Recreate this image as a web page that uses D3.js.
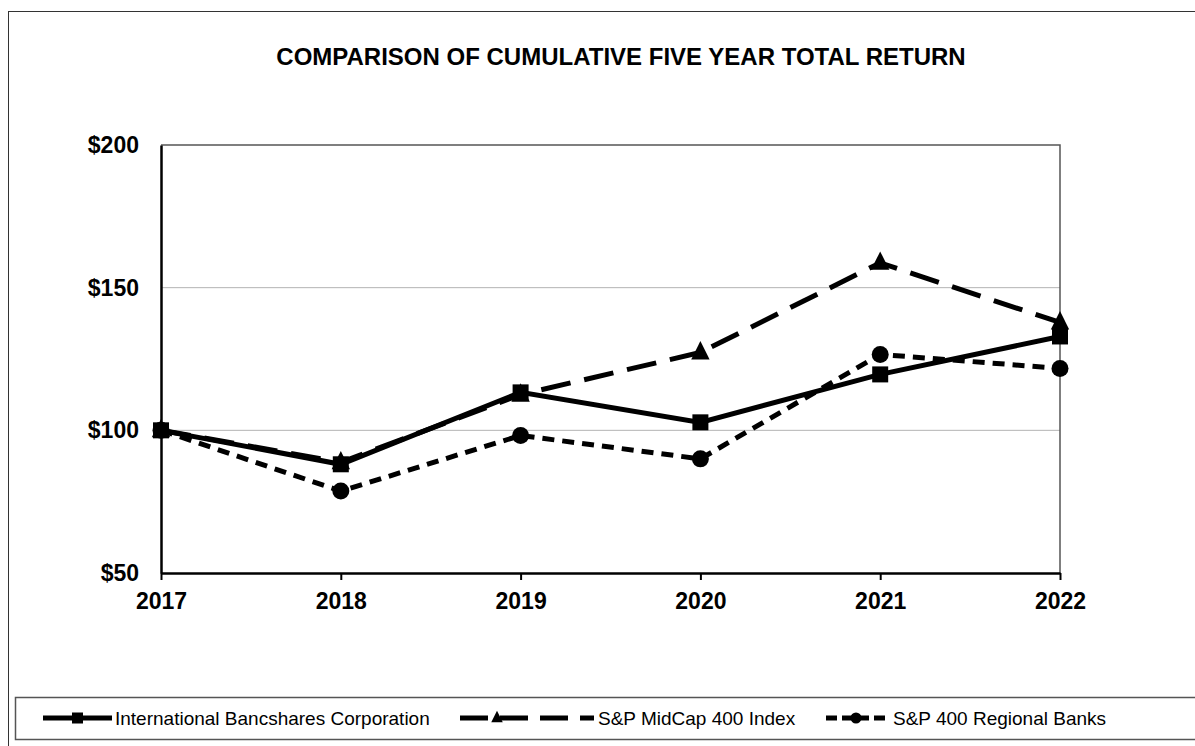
<!DOCTYPE html>
<html>
<head>
<meta charset="utf-8">
<script src="https://cdn.jsdelivr.net/npm/d3@7"></script>
<style>
  body { margin: 0; background: #fff; }
  svg { display: block; font-family: "Liberation Sans", Arial, sans-serif; }
</style>
</head>
<body>
<div id="chart"></div>
<script>
// data
const years = ["2017", "2018", "2019", "2020", "2021", "2022"];
const ibcValues = [100, 88.1, 113.3, 102.8, 119.6, 132.9];
const midcapValues = [100, 88.8, 112.5, 127.3, 158.7, 137.8];
const regionalValues = [100, 78.7, 98.2, 90.0, 126.6, 121.7];
const yTicks = [50, 100, 150, 200];

const seriesList = [
  {name: "International Bancshares Corporation", values: ibcValues, marker: "square", dash: null},
  {name: "S&P MidCap 400 Index", values: midcapValues, marker: "triangle", dash: "30,14"},
  {name: "S&P 400 Regional Banks", values: regionalValues, marker: "circle", dash: "12,8"}
];

const W = 1195, H = 746;
const plot = {left: 161, right: 1060, top: 145, bottom: 573};

const svg = d3.select("#chart").append("svg")
  .attr("width", W)
  .attr("height", H);

// outer frame
svg.append("rect")
  .attr("x", 8.5).attr("y", 11.5)
  .attr("width", W + 20).attr("height", H + 20)
  .attr("fill", "none")
  .attr("stroke", "#333")
  .attr("stroke-width", 1);

svg.append("text")
  .attr("x", 621)
  .attr("y", 65)
  .attr("text-anchor", "middle")
  .attr("font-size", 24)
  .attr("font-weight", "bold")
  .text("COMPARISON OF CUMULATIVE FIVE YEAR TOTAL RETURN");

const x = d3.scalePoint().domain(years).range([plot.left, plot.right]);
const y = d3.scaleLinear().domain([50, 200]).range([plot.bottom, plot.top]);

// gridlines
svg.append("g")
  .selectAll("line")
  .data(yTicks.filter(t => t > 50 && t < 200))
  .join("line")
  .attr("x1", plot.left).attr("x2", plot.right)
  .attr("y1", d => y(d)).attr("y2", d => y(d))
  .attr("stroke", "#b4b4b4")
  .attr("stroke-width", 1);

// top and right frame of plot area
svg.append("path")
  .attr("d", `M${plot.left},${plot.top}H${plot.right}V${plot.bottom}`)
  .attr("fill", "none")
  .attr("stroke", "#555")
  .attr("stroke-width", 1.5);

// y axis
const yAxis = svg.append("g")
  .attr("transform", `translate(${plot.left},0)`)
  .call(d3.axisLeft(y).tickValues(yTicks).tickSize(0).tickPadding(22).tickFormat(d => "$" + d));
yAxis.select(".domain").attr("stroke", "#000").attr("stroke-width", 2.5);
yAxis.selectAll("text")
  .attr("font-size", 23)
  .attr("font-weight", "bold")
  .attr("fill", "#000")
  .attr("font-family", "Liberation Sans, Arial, sans-serif");

// x axis
const xAxis = svg.append("g")
  .attr("transform", `translate(0,${plot.bottom})`)
  .call(d3.axisBottom(x).tickSizeInner(7).tickSizeOuter(0).tickPadding(13));
xAxis.select(".domain").attr("stroke", "#000").attr("stroke-width", 2.5);
xAxis.selectAll(".tick line").attr("stroke", "#000").attr("stroke-width", 2);
xAxis.selectAll("text")
  .attr("font-size", 23)
  .attr("font-weight", "bold")
  .attr("fill", "#000")
  .attr("font-family", "Liberation Sans, Arial, sans-serif");

function drawMarker(g, type, size) {
  if (type === "square") {
    g.append("rect")
      .attr("x", -size / 2).attr("y", -size / 2)
      .attr("width", size).attr("height", size)
      .attr("fill", "#000");
  } else if (type === "triangle") {
    const s = size * 1.15;
    g.append("path")
      .attr("d", `M0,${-s * 0.62}L${s / 2},${s * 0.38}L${-s / 2},${s * 0.38}Z`)
      .attr("fill", "#000");
  } else {
    g.append("circle").attr("r", size / 2).attr("fill", "#000");
  }
}

const line = d3.line()
  .x((d, i) => x(years[i]))
  .y(d => y(d));

// draw regional first, then midcap, then IBC on top
const drawOrder = [seriesList[2], seriesList[1], seriesList[0]];
drawOrder.forEach(s => {
  svg.append("path")
    .datum(s.values)
    .attr("d", line)
    .attr("fill", "none")
    .attr("stroke", "#000")
    .attr("stroke-width", 5)
    .attr("stroke-dasharray", s.dash);
  s.values.forEach((v, i) => {
    const g = svg.append("g").attr("transform", `translate(${x(years[i])},${y(v)})`);
    drawMarker(g, s.marker, s.marker === "circle" ? 17 : 16);
  });
});

// legend
svg.append("rect")
  .attr("x", 15.5).attr("y", 697.5)
  .attr("width", W).attr("height", 42)
  .attr("fill", "#fff")
  .attr("stroke", "#555")
  .attr("stroke-width", 1.5);

const legendItems = [
  {s: seriesList[0], x0: 43, x1: 112, tx: 115},
  {s: seriesList[1], x0: 460, x1: 594, tx: 598},
  {s: seriesList[2], x0: 826, x1: 889, tx: 893}
];
const ly = 718;
legendItems.forEach(it => {
  if (it.s.marker === "square") {
    svg.append("line")
      .attr("x1", it.x0).attr("x2", it.x1).attr("y1", ly).attr("y2", ly)
      .attr("stroke", "#000").attr("stroke-width", 5);
    const g = svg.append("g").attr("transform", `translate(${(it.x0 + it.x1) / 2},${ly})`);
    drawMarker(g, "square", 11);
  } else if (it.s.marker === "triangle") {
    svg.append("line")
      .attr("x1", it.x0).attr("x2", it.x1).attr("y1", ly).attr("y2", ly)
      .attr("stroke", "#000").attr("stroke-width", 5)
      .attr("stroke-dasharray", "28,12");
    const g = svg.append("g").attr("transform", `translate(${it.x0 + 37},${ly})`);
    drawMarker(g, "triangle", 10);
  } else {
    svg.append("line")
      .attr("x1", it.x0).attr("x2", it.x1).attr("y1", ly).attr("y2", ly)
      .attr("stroke", "#000").attr("stroke-width", 5)
      .attr("stroke-dasharray", "11,5");
    const g = svg.append("g").attr("transform", `translate(${it.x0 + 30},${ly})`);
    drawMarker(g, "circle", 11);
  }
  svg.append("text")
    .attr("x", it.tx)
    .attr("y", ly + 7)
    .attr("font-size", 19)
    .attr("fill", "#000")
    .text(it.s.name);
});
</script>
</body>
</html>
